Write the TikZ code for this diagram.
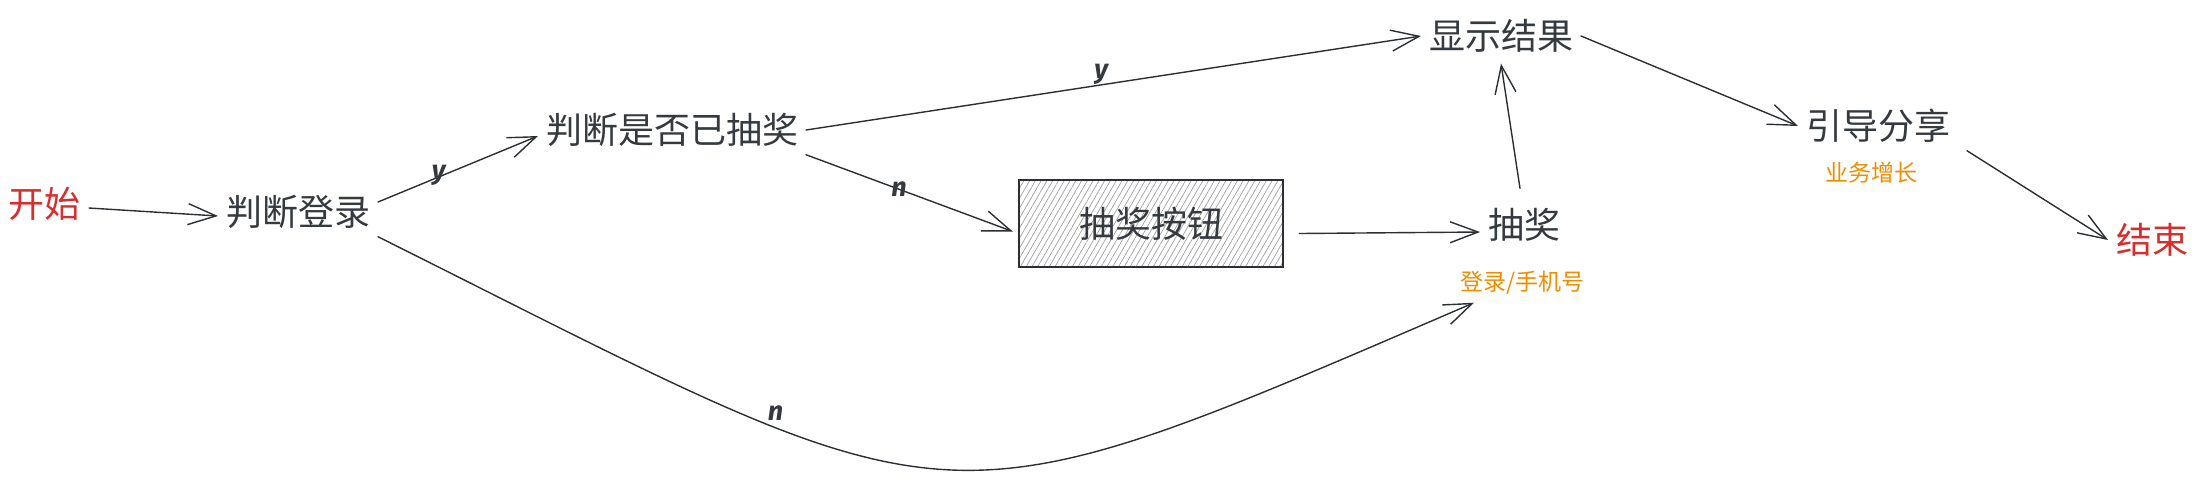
\documentclass[tikz,border=0pt]{standalone}
\usepackage{fontspec}
\setmainfont{Noto Sans CJK SC}
\newfontfamily\handfont{Fira Sans}
\usetikzlibrary{arrows.meta,patterns.meta}
\definecolor{ink}{HTML}{343A40}
\definecolor{linec}{HTML}{2B2F33}
\definecolor{redc}{HTML}{D62D2D}
\definecolor{orangec}{HTML}{F08C00}
\definecolor{hatchc}{HTML}{A0A0A0}
\begin{document}
\begin{tikzpicture}[x=0.5pt,y=-0.5pt,
  lbl/.style={inner sep=0pt, outer sep=4pt, text=ink, font=\fontsize{18}{20}\selectfont},
  redlbl/.style={lbl, text=redc},
  sub/.style={inner sep=0pt, outer sep=4pt, text=orangec, font=\fontsize{11.5}{13}\selectfont},
  conn/.style={draw=linec, line width=0.7pt, line cap=round, line join=round,
    -{Straight Barb[length=14pt,width=10.5pt,line width=0.7pt]}},
  hand/.style={text=ink, font=\handfont\bfseries\itshape\fontsize{13.5}{14}\selectfont, inner sep=1pt},
  btnbox/.style={draw=linec, line width=0.8pt, minimum width=132.25pt, minimum height=43.5pt,
    pattern={Lines[angle=60,distance=2.5pt,line width=0.35pt]}, pattern color=hatchc,
    outer sep=3pt, text=ink, font=\fontsize{18}{20}\selectfont}
]
\useasboundingbox (0,0) rectangle (2199,484);

\node[redlbl] (start) at (45,204) {开始};
\node[lbl] (login) at (298,212) {判断登录};
\node[lbl] (drawn) at (672,130) {判断是否已抽奖};
\node[lbl] (result) at (1501,36) {显示结果};
\node[btnbox] (btn) at (1151,223.5) {抽奖按钮};
\node[lbl] (lottery) at (1524,225) {抽奖};
\node[sub] (drawsub) at (1522,283) {登录/手机号};
\node[lbl] (share) at (1878,126) {引导分享};
\node[sub] (sharesub) at (1871,173) {业务增长};
\node[redlbl] (finish) at (2152,240) {结束};

\draw[conn] ([yshift=-2pt]start.east) -- ([yshift=-2pt]login.west);
\draw[conn] ([yshift=5pt]login.east) -- ([yshift=-3pt]drawn.west) node[hand, pos=0.38, yshift=1pt] {y};
\draw[conn] (drawn.east) -- (result.west) node[hand, pos=0.48, above=-1pt] {y};
\draw[conn] (drawn.south east) -- ([yshift=-4pt]btn.west) node[hand, pos=0.45] {n};
\draw[conn] ([xshift=5pt,yshift=-5pt]btn.east) -- ([yshift=-3.5pt]lottery.west);
\draw[conn] ([xshift=-2pt,yshift=6pt]lottery.north) -- ([yshift=-1.5pt]result.south);
\draw[conn] (result.east) -- (share.west);
\draw[conn] ([xshift=4.5pt]share.south east) -- (finish.west);
\draw[conn] (login.south east) .. controls +(590,295) and +(-551,237) .. ([xshift=11pt]drawsub.south west)
  node[hand, pos=0.305, above=2.5pt] {n};
\end{tikzpicture}
\end{document}
